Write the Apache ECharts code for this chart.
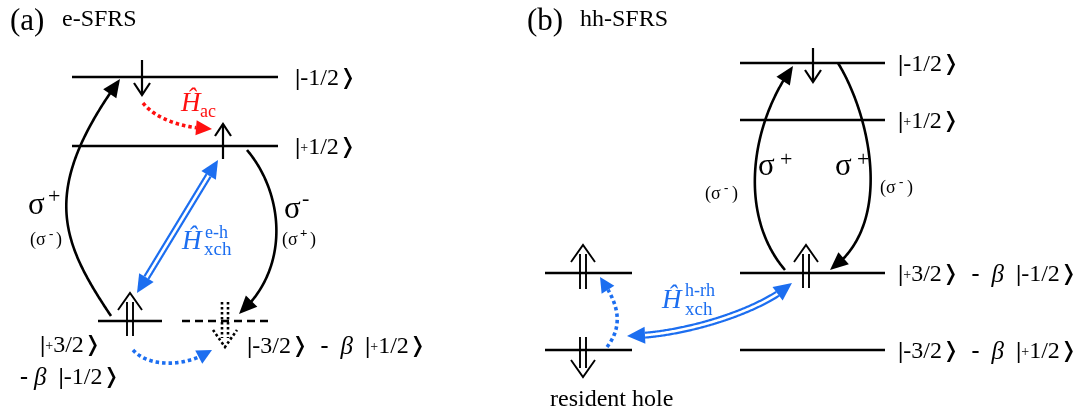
<!DOCTYPE html>
<html>
<head>
<meta charset="utf-8">
<title>e-SFRS / hh-SFRS level schemes</title>
<script src="https://cdn.jsdelivr.net/npm/echarts@6/dist/echarts.min.js"></script>
<style>
html, body { margin: 0; padding: 0; background: #fff; }
#chart { width: 1079px; height: 414px; }
</style>
</head>
<body>
<div id="chart"></div>
<script>
// ---------- Level-scheme geometry (x to the right, y downward) ----------

// Panel (a) e-SFRS: energy levels [xStart, xEnd, y]
const levelsA = [[72, 278, 77], [72, 278, 146], [98, 162, 321]];
const dashedLevelsA = [[182, 268, 321]];
// Panel (b) hh-SFRS
const levelsB = [[740, 885, 63], [740, 885, 120], [740, 885, 273], [740, 885, 350],
                 [545, 632, 273], [545, 632, 350]];

// Spin arrows [x, yTail, yTip]
const electronSpins = [[142, 60, 95], [223, 159, 124], [813, 48, 82]];
const holeSpins = [[130, 336, 293], [806, 288, 245], [583, 289, 245], [583, 337, 377]];
const emptyHoleSpins = [[225, 302, 347]];

// Transitions: cubic Bezier [start, c1, c2, end]
const opticalArrows = [
  [[111, 316], [60, 240], [40, 190], [120, 79]],
  [[247, 150], [285, 195], [290, 270], [239, 314]],
  [[785, 270], [738, 215], [750, 125], [793, 66]],
  [[838, 63], [870, 115], [895, 225], [830, 270]]
];
const acousticArrows = [[[143, 103], [155, 118], [180, 128], [212, 129]]];
const holeFlipArrows = [
  [[133, 350], [148, 367], [185, 368], [212, 350]],
  [[607, 347], [628, 320], [612, 295], [600, 277]]
];
const exchangeArrows = [
  [[137, 293], [164, 249], [191, 204], [218, 160]],
  [[627, 336], [680, 336], [760, 312], [792, 283]]
];

// Texts [x, y, text]
const titleTexts = [[10, 22, '(a)'], [527, 22, '(b)']];
const subtitleTexts = [[62, 20, 'e-SFRS'], [580, 20, 'hh-SFRS']];
const ketTexts = [
  [295, 79, '{v||}-1/2{k|❭}'],
  [295, 148, '{v||}{s|+}1/2{k|❭}'],
  [40, 346, '{v||}{s|+}3/2{k|❭}'],
  [20, 378, '{m|-} {b|β}  {v||}-1/2{k|❭}'],
  [247, 347, '{v||}-3/2{k|❭}  {m|-}  {b|β}  {v||}{s|+}1/2{k|❭}'],
  [898, 65, '{v||}-1/2{k|❭}'],
  [898, 122, '{v||}{s|+}1/2{k|❭}'],
  [898, 275, '{v||}{s|+}3/2{k|❭}  {m|-}  {b|β}  {v||}-1/2{k|❭}'],
  [898, 352, '{v||}-3/2{k|❭}  {m|-}  {b|β}  {v||}{s|+}1/2{k|❭}']
];
const captionTexts = [[550, 400, 'resident hole']];
const sigmaTexts = [[28, 206, 'σ'], [284, 210, 'σ'], [758, 167, 'σ'], [835, 167, 'σ']];
const sigmaSupTexts = [[48, 197, '+'], [302, 199, '-'], [780, 160, '+'], [857, 160, '+']];
const parenTexts = [
  [30, 240, '(σ'], [56, 240, ')'],
  [282, 240, '(σ'], [310, 240, ')'],
  [705, 194, '(σ'], [732, 194, ')'],
  [880, 188, '(σ'], [907, 188, ')']
];
const parenSupTexts = [[49, 235, '-'], [300, 234, '+'], [724, 189, '-'], [899, 183, '-']];
const hamiltonianRed = [[181, 104, 'Ĥ']];
const hamiltonianRedSub = [[200, 112, 'ac']];
const hamiltonianBlue = [[182, 242, 'Ĥ'], [662, 301, 'Ĥ']];
const hamiltonianBlueSup = [[205, 233, 'e-h'], [685, 291, 'h-rh']];
const hamiltonianBlueSub = [[204, 250, 'xch'], [685, 310, 'xch']];

// ---------- drawing helpers ----------
const BLACK = '#000000', RED = '#ff1010', BLUE = '#1c6ef0';
const SERIF = "'Liberation Serif', 'DejaVu Serif', serif";

function cubic(P, t) {
  const u = 1 - t;
  const a = u * u * u, b = 3 * u * u * t, c = 3 * u * t * t, d = t * t * t;
  return [a * P[0][0] + b * P[1][0] + c * P[2][0] + d * P[3][0],
          a * P[0][1] + b * P[1][1] + c * P[2][1] + d * P[3][1]];
}
function dist(p, q) { return Math.hypot(p[0] - q[0], p[1] - q[1]); }

// cut an arrowhead off the end of a sampled path
function arrowHead(pts, len, half, overlap) {
  const tip = pts[pts.length - 1];
  let j = pts.length - 1;
  while (j > 0 && dist(pts[j], tip) < len) j--;
  const L = dist(pts[j], tip) || 1;
  const d = [(tip[0] - pts[j][0]) / L, (tip[1] - pts[j][1]) / L];
  const base = [tip[0] - d[0] * len, tip[1] - d[1] * len];
  const n = [-d[1], d[0]];
  const poly = [tip, [base[0] + n[0] * half, base[1] + n[1] * half], [base[0] - n[0] * half, base[1] - n[1] * half]];
  const rest = pts.slice(0, j + 1).concat([[base[0] + d[0] * overlap, base[1] + d[1] * overlap]]);
  return { poly, rest };
}

const CURVE_STYLE = {
  optical:  { color: BLACK, width: 2.6, dash: null, head: 18, half: 8, both: false, double: false },
  acoustic: { color: RED, width: 3.6, dash: [3.5, 3], head: 16, half: 7.5, both: false, double: false },
  holeFlip: { color: BLUE, width: 3.6, dash: [3.5, 3], head: 15, half: 7.5, both: false, double: false },
  exchange: { color: BLUE, width: 7, dash: null, head: 18, half: 8.5, both: true, double: true }
};

function curveSeries(list, kind) {
  const st = CURVE_STYLE[kind];
  return {
    type: 'custom', coordinateSystem: 'cartesian2d', silent: true, clip: false, z: 3,
    data: list.map(c => [].concat(...c)),
    renderItem: function (params, api) {
      const P = [0, 1, 2, 3].map(i => api.coord([api.value(2 * i), api.value(2 * i + 1)]));
      let pts = [];
      for (let i = 0; i <= 160; i++) pts.push(cubic(P, i / 160));
      const heads = [];
      const ov = st.double || st.dash ? 0 : 3;
      let h = arrowHead(pts, st.head, st.half, ov);
      heads.push(h.poly); pts = h.rest;
      if (st.both) {
        h = arrowHead(pts.slice().reverse(), st.head, st.half, ov);
        heads.push(h.poly); pts = h.rest.reverse();
      }
      const children = [{
        type: 'polyline', shape: { points: pts },
        style: { stroke: st.color, lineWidth: st.width, fill: null, lineDash: st.dash, lineCap: 'butt', lineJoin: 'round' }
      }];
      if (st.double) {
        children.push({
          type: 'polyline', shape: { points: pts },
          style: { stroke: '#ffffff', lineWidth: 2.6, fill: null, lineCap: 'butt' }
        });
      }
      heads.forEach(p => children.push({ type: 'polygon', shape: { points: p }, style: { fill: st.color, stroke: null } }));
      return { type: 'group', children };
    }
  };
}

function levelSeries(list, dashed) {
  return {
    type: 'custom', coordinateSystem: 'cartesian2d', silent: true, clip: false, z: 2,
    data: list,
    renderItem: function (params, api) {
      const a = api.coord([api.value(0), api.value(2)]);
      const b = api.coord([api.value(1), api.value(2)]);
      return {
        type: 'line', shape: { x1: a[0], y1: a[1], x2: b[0], y2: b[1] },
        style: { stroke: BLACK, lineWidth: 2.6, lineDash: dashed ? [8, 5] : null }
      };
    }
  };
}

// kind: 'single' electron spin, 'double' hole spin, 'dotted' missing hole
function spinSeries(list, kind) {
  return {
    type: 'custom', coordinateSystem: 'cartesian2d', silent: true, clip: false, z: 4,
    data: list,
    renderItem: function (params, api) {
      const tail = api.coord([api.value(0), api.value(1)]);
      const tip = api.coord([api.value(0), api.value(2)]);
      const s = tip[1] > tail[1] ? 1 : -1;
      const dash = kind === 'dotted' ? [2.6, 2.4] : null;
      const lw = kind === 'single' ? 2.2 : 1.9;
      const w = kind === 'single' ? 8 : 12;
      const hgt = kind === 'single' ? 12 : 17;
      const stl = { stroke: BLACK, lineWidth: kind === 'dotted' ? 2.6 : lw, fill: null, lineDash: dash };
      const children = [];
      if (kind === 'single') {
        children.push({ type: 'line', shape: { x1: tail[0], y1: tail[1], x2: tip[0], y2: tip[1] }, style: stl });
      } else {
        [-3, 3].forEach(dx => children.push({
          type: 'line', shape: { x1: tail[0] + dx, y1: tail[1], x2: tip[0] + dx, y2: tip[1] - s * 9 }, style: stl
        }));
      }
      children.push({
        type: 'polyline',
        shape: { points: [[tip[0] - w, tip[1] - s * hgt], tip, [tip[0] + w, tip[1] - s * hgt]] },
        style: Object.assign({}, stl, { lineJoin: 'miter' })
      });
      return { type: 'group', children };
    }
  };
}

function textSeries(list, textStyle) {
  return {
    type: 'custom', coordinateSystem: 'cartesian2d', silent: true, clip: false, z: 5,
    data: list.map(t => [t[0], t[1]]),
    renderItem: function (params, api) {
      const p = api.coord([api.value(0), api.value(1)]);
      return {
        type: 'text', x: p[0], y: p[1],
        style: Object.assign({ text: list[params.dataIndex][2], align: 'left', verticalAlign: 'middle' }, textStyle)
      };
    }
  };
}

const ketRich = {
  s: { fontSize: 14, fontFamily: SERIF, fill: BLACK },
  v: { fontSize: 24, fontFamily: SERIF, fontWeight: 'bold', fill: BLACK },
  m: { fontSize: 24, fontFamily: SERIF, fontWeight: 'bold', fill: BLACK },
  b: { fontSize: 25, fontFamily: SERIF, fontStyle: 'italic', fill: BLACK },
  k: { fontSize: 21, fontFamily: "'DejaVu Sans'", fill: BLACK }
};

const chart = echarts.init(document.getElementById('chart'), null, { renderer: 'canvas' });
chart.setOption({
  animation: false,
  backgroundColor: '#ffffff',
  grid: { left: 0, right: 0, top: 0, bottom: 0 },
  xAxis: { type: 'value', min: 0, max: 1079, show: false },
  yAxis: { type: 'value', min: 0, max: 414, inverse: true, show: false },
  series: [
    levelSeries(levelsA, false),
    levelSeries(dashedLevelsA, true),
    levelSeries(levelsB, false),
    curveSeries(opticalArrows, 'optical'),
    curveSeries(acousticArrows, 'acoustic'),
    curveSeries(holeFlipArrows, 'holeFlip'),
    curveSeries(exchangeArrows, 'exchange'),
    spinSeries(electronSpins, 'single'),
    spinSeries(holeSpins, 'double'),
    spinSeries(emptyHoleSpins, 'dotted'),
    textSeries(titleTexts, { fontSize: 31, fontFamily: SERIF, fill: BLACK }),
    textSeries(subtitleTexts, { fontSize: 24, fontFamily: SERIF, fill: BLACK }),
    textSeries(ketTexts, { fontSize: 24, fontFamily: SERIF, fill: BLACK, rich: ketRich }),
    textSeries(captionTexts, { fontSize: 24, fontFamily: SERIF, fill: BLACK }),
    textSeries(sigmaTexts, { fontSize: 31, fontFamily: SERIF, fill: BLACK }),
    textSeries(sigmaSupTexts, { fontSize: 22, fontFamily: SERIF, fill: BLACK }),
    textSeries(parenTexts, { fontSize: 18, fontFamily: SERIF, fill: BLACK }),
    textSeries(parenSupTexts, { fontSize: 13, fontFamily: SERIF, fontWeight: 'bold', fill: BLACK }),
    textSeries(hamiltonianRed, { fontSize: 27, fontFamily: SERIF, fontStyle: 'italic', fill: RED }),
    textSeries(hamiltonianRedSub, { fontSize: 18, fontFamily: SERIF, fill: RED }),
    textSeries(hamiltonianBlue, { fontSize: 27, fontFamily: SERIF, fontStyle: 'italic', fill: BLUE }),
    textSeries(hamiltonianBlueSup, { fontSize: 18, fontFamily: SERIF, fill: BLUE }),
    textSeries(hamiltonianBlueSub, { fontSize: 19, fontFamily: SERIF, fill: BLUE })
  ]
});
</script>
</body>
</html>
